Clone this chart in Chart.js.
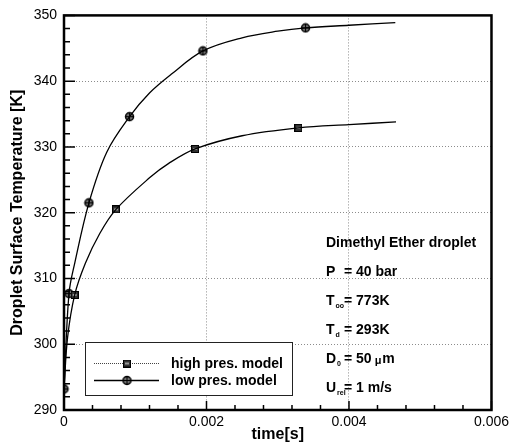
<!DOCTYPE html>
<html>
<head>
<meta charset="utf-8">
<script src="https://cdn.jsdelivr.net/npm/chart.js@4.4.1/dist/chart.umd.min.js"></script>
<style>
  html, body { margin: 0; padding: 0; background: #fff; }
  #wrap { width: 513px; height: 443px; }
</style>
</head>
<body>
<div id="wrap"><canvas id="chart" width="513" height="443"></canvas></div>
<script>
// ── values ──
// curve samples (time [s], temperature [K])
const highT    = [0, 0.00005, 0.00015, 0.0003, 0.0005, 0.00073, 0.0012, 0.00147, 0.00184, 0.0025, 0.00329, 0.004, 0.00466];
const highTemp = [293.2, 301.0, 307.5, 312.3, 316.8, 320.5, 325.3, 327.5, 329.7, 331.7, 332.9, 333.4, 333.8];
const lowT     = [0, 0.00007, 0.00015, 0.00035, 0.0006, 0.00092, 0.0012, 0.0015, 0.00195, 0.0025, 0.003, 0.00339, 0.004, 0.00465];
const lowTemp  = [293.2, 307.7, 312.3, 321.5, 329.2, 334.6, 338.2, 341.0, 344.6, 346.6, 347.6, 348.1, 348.5, 348.9];

// marker positions
const highMarkT = [0.00015, 0.00073, 0.00184, 0.00329];
const highMarkV = [307.5, 320.5, 329.7, 332.9];
const lowMarkT  = [0, 0.00007, 0.00035, 0.00092, 0.00195, 0.00339];
const lowMarkV  = [293.2, 307.7, 321.5, 334.6, 344.6, 348.1];

const seriesNames = ['high pres. model', 'low pres. model'];

// axes
const xMajor = [0, 0.002, 0.004, 0.006];
const xMinor = [0.0004, 0.0008, 0.0012, 0.0016, 0.0024, 0.0028, 0.0032, 0.0036, 0.0044, 0.0048, 0.0052, 0.0056];
const yMajor = [290, 300, 310, 320, 330, 340, 350];
const yMinor = [292, 294, 296, 298, 302, 304, 306, 308, 312, 314, 316, 318, 322, 324, 326, 328,
                332, 334, 336, 338, 342, 344, 346, 348];

// annotation block
const infoLines = [
  { main: 'Dimethyl Ether droplet' },
  { main: 'P', sub: '', rest: '= 40 bar' },
  { main: 'T', sub: 'oo', rest: '= 773K' },
  { main: 'T', sub: 'd', rest: '= 293K' },
  { main: 'D', sub: '0', rest: '= 50', unit: ['\u03bc', 'm'] },
  { main: 'U', sub: 'rel', rest: '= 1 m/s' }
];

const FONT = '"Liberation Sans", Arial, Helvetica, sans-serif';

const pts = (xs, ys) => xs.map((v, i) => ({ x: v, y: ys[i] }));

// marker glyphs
function circleMark() {
  const c = document.createElement('canvas');
  c.width = 11; c.height = 11;
  const g = c.getContext('2d');
  g.beginPath(); g.arc(5.5, 5.5, 4, 0, Math.PI * 2);
  g.fillStyle = '#6e6e6e'; g.fill();
  g.lineWidth = 1.5; g.strokeStyle = '#000'; g.stroke();
  g.lineWidth = 1;
  g.beginPath(); g.moveTo(2, 5.5); g.lineTo(9, 5.5); g.moveTo(5.5, 2); g.lineTo(5.5, 9); g.stroke();
  return c;
}
function squareMark() {
  const c = document.createElement('canvas');
  c.width = 8; c.height = 8;
  const g = c.getContext('2d');
  g.fillStyle = '#333'; g.fillRect(0.5, 0.5, 7, 7);
  g.fillStyle = '#999'; g.fillRect(2, 3, 4, 2);
  g.strokeStyle = '#000'; g.lineWidth = 1; g.strokeRect(0.5, 0.5, 7, 7);
  return c;
}
const cMark = circleMark();
const sMark = squareMark();

const decor = {
  id: 'decor',
  afterDatasetsDraw(chart) {
    const { ctx, chartArea: a, scales: { x, y } } = chart;
    ctx.save();
    ctx.strokeStyle = '#000';

    // inward tick marks
    ctx.lineWidth = 1.5;
    ctx.beginPath();
    xMajor.forEach(v => { const px = x.getPixelForValue(v); ctx.moveTo(px, a.bottom); ctx.lineTo(px, a.bottom - 9); });
    xMinor.forEach(v => { const px = x.getPixelForValue(v); ctx.moveTo(px, a.bottom); ctx.lineTo(px, a.bottom - 5); });
    yMajor.forEach(v => { const py = y.getPixelForValue(v); ctx.moveTo(a.left, py); ctx.lineTo(a.left + 11, py); });
    yMinor.forEach(v => { const py = y.getPixelForValue(v); ctx.moveTo(a.left, py); ctx.lineTo(a.left + 6, py); });
    ctx.stroke();

    // frame
    ctx.lineWidth = 2.5;
    ctx.strokeRect(a.left, a.top, a.right - a.left, a.bottom - a.top);

    // legend box
    const lx = 85, ly = 342, lw = 207, lh = 53;
    ctx.fillStyle = '#fff';
    ctx.fillRect(lx, ly, lw, lh);
    ctx.lineWidth = 1;
    ctx.strokeStyle = '#222';
    ctx.strokeRect(lx + 0.5, ly + 0.5, lw, lh);
    const rows = [363, 380];
    ctx.font = 'bold 14px ' + FONT;
    ctx.textBaseline = 'middle';
    ctx.textAlign = 'left';
    rows.forEach((ry, i) => {
      ctx.beginPath();
      ctx.strokeStyle = i === 0 ? '#444' : '#000';
      ctx.lineWidth = i === 0 ? 1 : 1.3;
      ctx.setLineDash(i === 0 ? [1, 1] : []);
      ctx.moveTo(94, ry + 0.5); ctx.lineTo(159, ry + 0.5);
      ctx.stroke();
      ctx.setLineDash([]);
      const m = i === 0 ? sMark : cMark;
      ctx.drawImage(m, 127 - m.width / 2, ry + 0.5 - m.height / 2);
      ctx.fillStyle = '#000';
      ctx.fillText(seriesNames[i], 171, ry + 1);
    });

    // info block
    const tx = 326, eqX = 344;
    let ty = 243;
    ctx.textBaseline = 'middle';
    infoLines.forEach(l => {
      ctx.font = 'bold 14px ' + FONT;
      ctx.fillStyle = '#000';
      ctx.fillText(l.main, tx, ty);
      if (l.rest !== undefined) {
        if (l.sub) {
          const w = ctx.measureText(l.main).width;
          ctx.font = 'bold 7px ' + FONT;
          ctx.fillText(l.sub, tx + w + 1, ty + 5);
          ctx.font = 'bold 14px ' + FONT;
        }
        ctx.fillText(l.rest, eqX, ty);
        if (l.unit) {
          let ux = eqX + ctx.measureText(l.rest).width + 3;
          ctx.font = 'bold 11px ' + FONT;
          ctx.fillText(l.unit[0], ux, ty + 2);
          ux += ctx.measureText(l.unit[0]).width + 1;
          ctx.font = 'bold 14px ' + FONT;
          ctx.fillText(l.unit[1], ux, ty);
        }
      }
      ty += 29;
    });
    ctx.restore();
  }
};

const gridColor = '#8c8c8c';

new Chart(document.getElementById('chart'), {
  type: 'line',
  data: {
    datasets: [
      { label: seriesNames[0], data: pts(highT, highTemp), borderColor: '#000', borderWidth: 1.3,
        pointRadius: 0, tension: 0.35, fill: false },
      { label: seriesNames[1], data: pts(lowT, lowTemp), borderColor: '#000', borderWidth: 1.3,
        pointRadius: 0, tension: 0.35, fill: false },
      { label: seriesNames[0] + ' markers', data: pts(highMarkT, highMarkV), showLine: false,
        pointStyle: sMark, pointRadius: 4 },
      { label: seriesNames[1] + ' markers', data: pts(lowMarkT, lowMarkV), showLine: false,
        pointStyle: cMark, pointRadius: 5 }
    ]
  },
  options: {
    responsive: false,
    animation: false,
    events: [],
    layout: { padding: { top: 13, right: 17, left: 0, bottom: 0 } },
    plugins: { legend: { display: false }, tooltip: { enabled: false } },
    scales: {
      x: {
        type: 'linear', min: 0, max: 0.006,
        afterBuildTicks: s => { s.ticks = xMajor.map(v => ({ value: v })); },
        afterFit: s => { s.height = 33; },
        ticks: { color: '#000', font: { family: FONT, size: 14 }, padding: 4, maxRotation: 0,
                 callback: v => v === 0 ? '0' : Number(v).toFixed(3) },
        grid: { color: gridColor, lineWidth: 1, drawTicks: false },
        border: { display: false, dash: [1, 2] },
        title: { display: true, text: 'time[s]', color: '#000', font: { family: FONT, size: 16, weight: 'bold' },
                 padding: { top: 0, bottom: -1 } }
      },
      y: {
        type: 'linear', min: 290, max: 350,
        afterBuildTicks: s => { s.ticks = yMajor.map(v => ({ value: v })); },
        afterFit: s => { s.width = 64; },
        ticks: { color: '#000', font: { family: FONT, size: 14 }, padding: 7 },
        grid: { color: gridColor, lineWidth: 1, drawTicks: false },
        border: { display: false, dash: [1, 2] },
        title: { display: true, text: 'Droplet Surface Temperature [K]', color: '#000',
                 font: { family: FONT, size: 16, weight: 'bold' }, padding: { top: 8, bottom: 0 } }
      }
    }
  },
  plugins: [decor]
});
</script>
</body>
</html>
